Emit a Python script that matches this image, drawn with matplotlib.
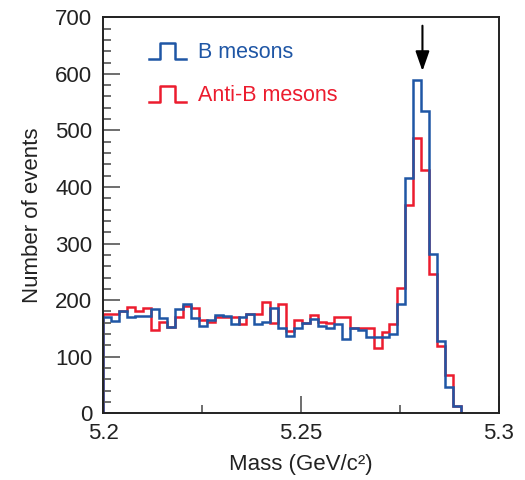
import numpy as np
import matplotlib
matplotlib.use("Agg")
import matplotlib.pyplot as plt

plt.rcParams['font.family'] = ['Liberation Sans', 'DejaVu Sans']

bin_start = 5.2
bin_width = 0.00201
b_mesons = [171, 163, 180, 171, 172, 172, 184, 168, 152, 184,
            194, 168, 155, 165, 174, 172, 158, 171, 175, 158,
            162, 186, 150, 137, 150, 160, 166, 155, 150, 158,
            131, 150, 147, 134, 135, 134, 140, 194, 416, 590,
            534, 282, 128, 47, 12]
anti_b_mesons = [175, 175, 180, 188, 180, 186, 147, 162, 152, 171,
                 190, 186, 165, 162, 170, 170, 171, 157, 175, 175,
                 197, 159, 193, 145, 165, 159, 174, 162, 160, 171,
                 171, 150, 151, 150, 115, 144, 158, 222, 369, 487,
                 430, 247, 119, 68, 12]
arrow_x = 5.2807
x_major = [5.2, 5.25, 5.3]
x_minor = [5.225, 5.275]
y_major = [0, 100, 200, 300, 400, 500, 600, 700]

blue = '#1f56a5'
red = '#ec1c2e'

edges = bin_start + bin_width * np.arange(len(b_mesons) + 1)

fig = plt.figure(figsize=(5.25, 4.8), dpi=100)
ax = fig.add_axes([0.197, 0.139, 0.753, 0.825])

ax.stairs(anti_b_mesons, edges, baseline=0, color=red, lw=1.8)
ax.stairs(b_mesons, edges, baseline=0, color=blue, lw=1.8)

ax.set_xlim(5.2, 5.3)
ax.set_ylim(0, 700)
ax.set_xticks(x_major)
ax.set_xticklabels(['5.2', '5.25', '5.3'])
ax.set_xticks(x_minor, minor=True)
ax.set_yticks(y_major)
ax.set_yticks(np.arange(0, 701, 20), minor=True)

ax.tick_params(axis='both', which='major', direction='in', length=12, width=1.2,
               colors='#555555', labelcolor='#222222', labelsize=16)
ax.tick_params(axis='both', which='minor', direction='in', length=6, width=1.2,
               colors='#555555')
ax.tick_params(axis='y', which='major', pad=8)
ax.tick_params(axis='x', which='major', pad=7)
ax.tick_params(top=False, right=False)

for s in ax.spines.values():
    s.set_linewidth(1.4)
    s.set_color('#222222')

ax.set_xlabel('Mass (GeV/c²)', fontsize=16, color='#222222', labelpad=7)
ax.set_ylabel('Number of events', fontsize=16, color='#222222', labelpad=9)

# arrow marking the peak
ax.annotate('', xy=(arrow_x, 600), xytext=(arrow_x, 690),
            arrowprops=dict(arrowstyle='-|>,head_width=0.42,head_length=1.2',
                            color='black', lw=1.5))

# legend with step-shaped symbols
def step_symbol(x0, y0, color):
    w = 0.095
    h = 0.04
    xs = [x0, x0 + w * 0.3, x0 + w * 0.3, x0 + w * 0.7, x0 + w * 0.7, x0 + w]
    ys = [y0, y0, y0 + h, y0 + h, y0, y0]
    ax.plot(xs, ys, color=color, lw=1.8, transform=ax.transAxes, clip_on=False)

step_symbol(0.115, 0.895, blue)
ax.text(0.24, 0.91, 'B mesons', color=blue, fontsize=15.5,
        transform=ax.transAxes, va='center', ha='left')
step_symbol(0.115, 0.787, red)
ax.text(0.24, 0.802, 'Anti-B mesons', color=red, fontsize=15.5,
        transform=ax.transAxes, va='center', ha='left')

fig.savefig('out.png', dpi=100)
